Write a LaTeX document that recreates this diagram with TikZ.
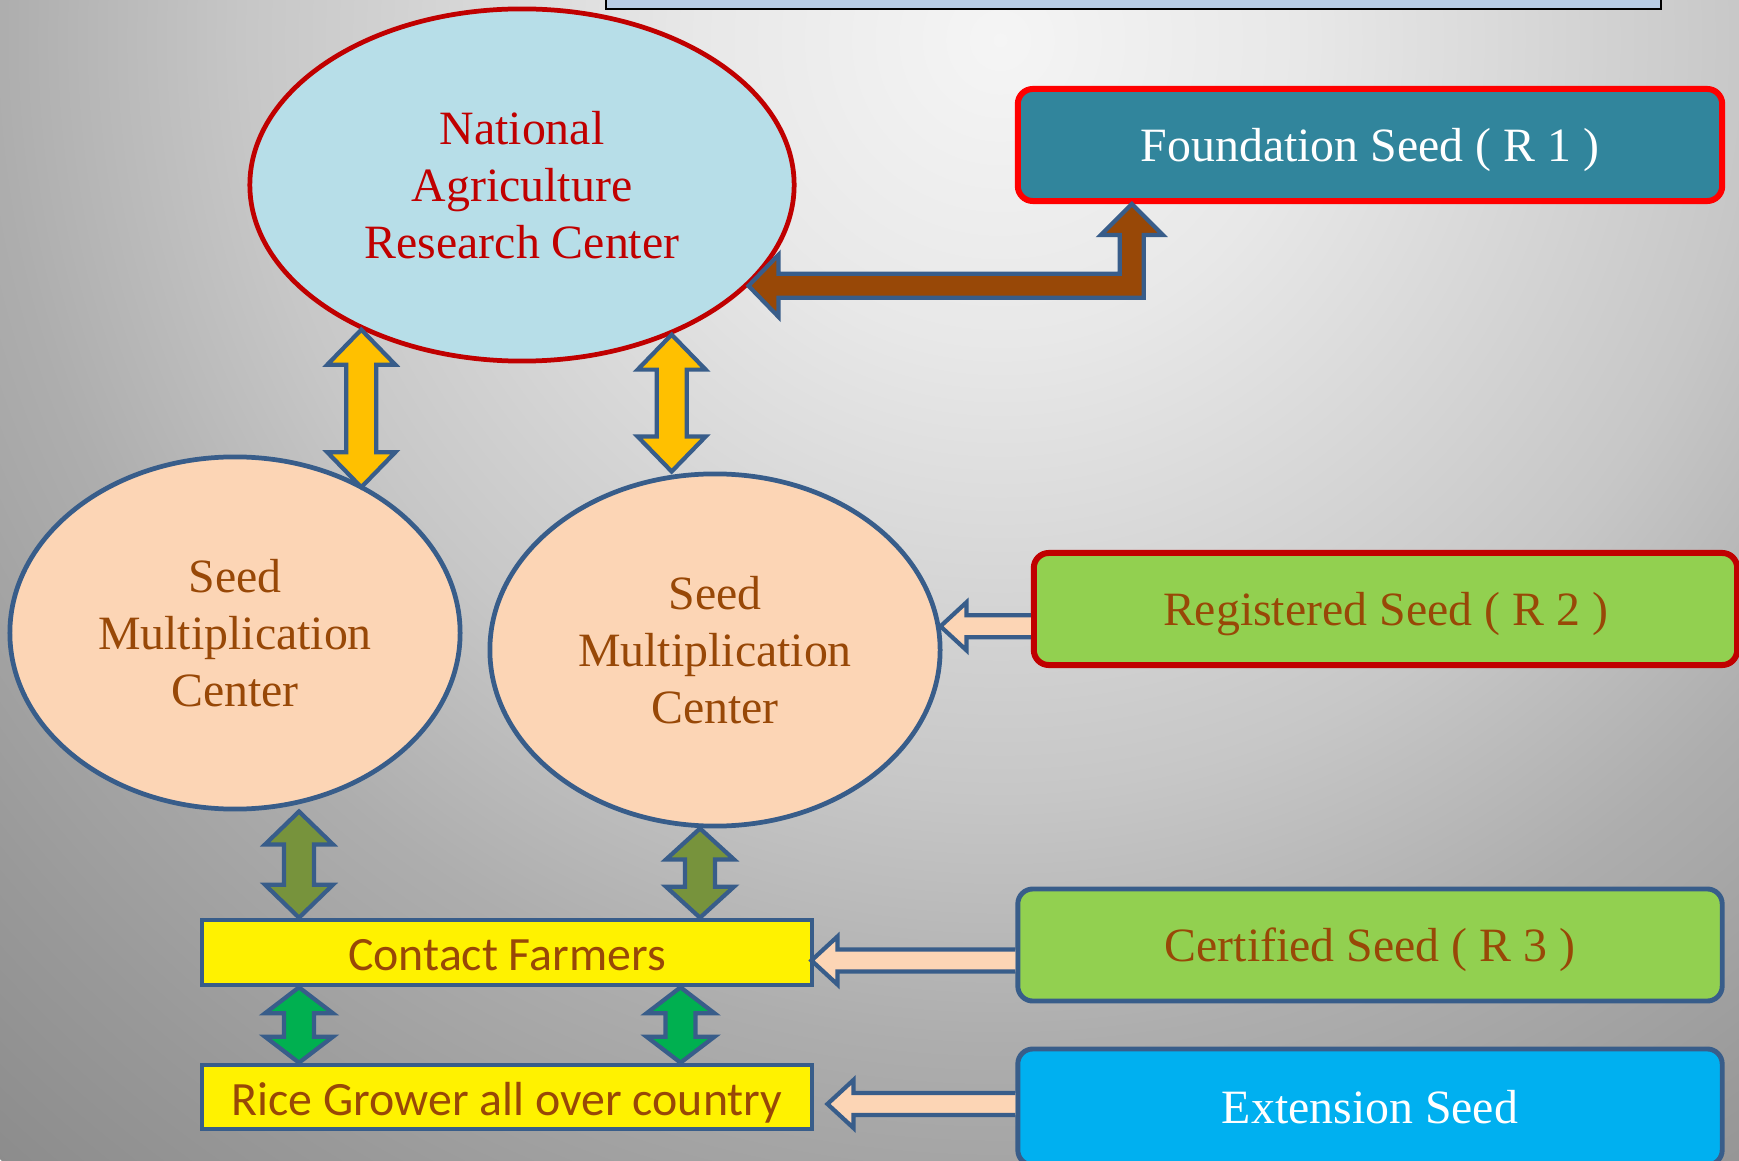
\documentclass[tikz,border=0pt]{standalone}
\usepackage{fontspec}
\setmainfont{Liberation Serif}
\newfontfamily\calibri{Carlito}
\usetikzlibrary{shapes.geometric,calc}

\definecolor{narcfill}{RGB}{183,222,232}
\definecolor{narcred}{RGB}{192,0,0}
\definecolor{smcfill}{RGB}{252,213,181}
\definecolor{edgeblue}{RGB}{56,93,138}
\definecolor{seedbrown}{RGB}{152,72,7}
\definecolor{foundfill}{RGB}{49,133,156}
\definecolor{leafgreen}{RGB}{146,208,80}
\definecolor{skyblue}{RGB}{0,176,240}
\definecolor{titlefill}{RGB}{185,205,229}
\definecolor{arrowgold}{RGB}{255,192,0}
\definecolor{arrowolive}{RGB}{119,147,60}
\definecolor{arrowgreen}{RGB}{0,176,80}

\pgfdeclareradialshading{backglow}{\pgfpoint{0bp}{0bp}}{color(0bp)=(black!4); color(5bp)=(black!9); color(12.5bp)=(black!22); color(16.7bp)=(black!32); color(21.5bp)=(black!40); color(25bp)=(black!45); color(50bp)=(black!50)}

\newcommand{\diagfont}{\fontsize{13.6}{16.2}\selectfont}

% two-headed block arrow, straight down: fill, top tip, bottom tip, head length
\newcommand{\vdarrow}[4]{%
  \draw[blockarrow, fill=#1] (#2) -- ++(34,#4) -- ++(-19,0) -- ($(#3)+(15,-#4)$) -- ++(19,0) -- (#3)
    -- ++(-34,-#4) -- ++(19,0) -- ($(#2)+(-15,#4)$) -- ++(-19,0) -- cycle;}

\begin{document}
\begin{tikzpicture}[x=0.01cm, y=-0.01cm,
    blockarrow/.style={draw=edgeblue, line width=1.2pt},
    centrenode/.style={ellipse, line width=1.35pt, minimum height=3.52cm, inner sep=0pt, align=center, font=\diagfont},
    seedbox/.style={rounded corners=0.15cm, minimum width=7.04cm, minimum height=1.12cm, inner sep=0pt, text height=9.3pt, text depth=0pt, font=\diagfont},
    farmbox/.style={draw=edgeblue, line width=1.3pt, fill=yellow, text=seedbrown, minimum width=6.1cm, minimum height=0.65cm, inner sep=0pt, text height=10.5pt, text depth=0pt, font=\calibri\diagfont}]

  % Background glow
  \useasboundingbox (0,0) rectangle (1739,1161);
  \begin{scope}
    \clip (0,0) rectangle (1739,1161);
    \shade[shading=backglow] (1000,40) circle (15cm);
  \end{scope}

  % Title strip cut by the top edge
  \draw[fill=titlefill, line width=0.7pt] (606,-40) rectangle (1661,9);

  % Research centre and the two multiplication centres
  \node[centrenode, draw=narcred, fill=narcfill, text=narcred, minimum width=5.44cm] (narc) at (522,185) {National\\Agriculture\\Research Center};
  \node[centrenode, draw=edgeblue, fill=smcfill, text=seedbrown, minimum width=4.5cm] (smc1) at (235,633) {Seed\\Multiplication\\Center};
  \node[centrenode, draw=edgeblue, fill=smcfill, text=seedbrown, minimum width=4.5cm] (smc2) at (715,650) {Seed\\Multiplication\\Center};

  % Seed classes on the right
  \node[seedbox, draw=red, line width=1.7pt, fill=foundfill, text=white] (fs) at (1370,145) {Foundation Seed ( R 1 )};
  \node[seedbox, draw=narcred, line width=1.7pt, fill=leafgreen, text=seedbrown, minimum width=7.03cm] (rs) at (1385.5,609) {Registered Seed ( R 2 )};
  \node[seedbox, draw=edgeblue, line width=1.4pt, fill=leafgreen, text=seedbrown] (cs) at (1370,945) {Certified Seed ( R 3 )};
  \node[seedbox, draw=edgeblue, line width=1.4pt, fill=skyblue, text=white, minimum height=1.16cm] (es) at (1370,1107) {Extension Seed};

  % Farmer boxes
  \node[farmbox] (cfarm) at (507,952.5) {Contact Farmers};
  \node[farmbox, minimum height=0.64cm] (rice) at (507,1097) {Rice Grower all over country};

  % End points of the two-headed arrows
  \coordinate (gold1t) at (narc.222);
  \coordinate (gold1b) at (gold1t |- smc1.48);
  \coordinate (gold2t) at (narc.315);
  \coordinate (gold2b) at (gold2t |- smc2.north);
  \coordinate (olive1t) at ($(smc1.south)+(64,0)$);
  \coordinate (olive1b) at (olive1t |- cfarm.north);
  \coordinate (olive2t) at ($(smc2.south)+(-15,0)$);
  \coordinate (olive2b) at (olive2t |- cfarm.north);
  \coordinate (green1t) at (olive1t |- cfarm.south);
  \coordinate (green1b) at (olive1t |- rice.north);
  \coordinate (green2t) at ($(cfarm.south west)+(481,0)$);
  \coordinate (green2b) at (green2t |- rice.north);

  \foreach \fillc/\tipa/\tipb/\hl in {arrowgold/gold1t/gold1b/35, arrowgold/gold2t/gold2b/35,
      arrowolive/olive1t/olive1b/33, arrowolive/olive2t/olive2b/31,
      arrowgreen/green1t/green1b/26, arrowgreen/green2t/green2b/26}
    \vdarrow{\fillc}{\tipa}{\tipb}{\hl};

  % Elbow arrow between research centre and foundation seed
  \coordinate (brownl) at (narc.336);
  \coordinate (brownt) at ($(fs.south west)+(117,0)$);
  \draw[blockarrow, fill=seedbrown] (brownl) -- ++(30,-31) -- ++(0,19) -- ($(brownt |- brownl)+(-12,-12)$)
    -- ($(brownt)+(-12,31)$) -- ++(-19,0) -- (brownt) -- ++(31,31) -- ++(-19,0)
    -- ($(brownt |- brownl)+(12,12)$) -- ($(brownl)+(30,12)$) -- ++(0,19) -- cycle;

  % Hollow arrows from the seed classes
  \coordinate (reg) at (smc2.6);
  \coordinate (cert) at ($(cfarm.east)+(-3,8)$);
  \coordinate (ext) at ($(rice.east)+(13,7)$);
  \foreach \tipn/\src in {reg/rs, cert/cs, ext/es}
    \draw[blockarrow, fill=smcfill] ($(\src.west |- \tipn)+(0,-11)$) -- ($(\tipn)+(26,-11)$) -- ++(0,-13)
      -- (\tipn) -- ++(26,24) -- ++(0,-13) -- ($(\src.west |- \tipn)+(0,11)$);
\end{tikzpicture}
\end{document}
